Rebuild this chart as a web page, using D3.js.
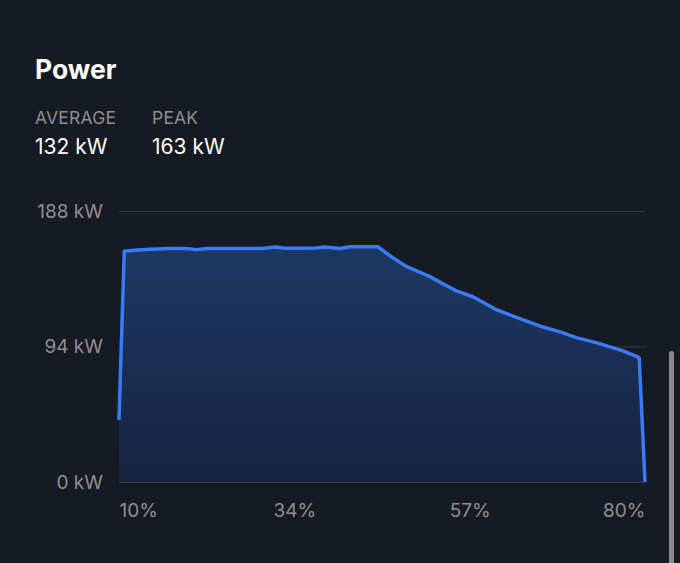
<!DOCTYPE html>
<html>
<head>
<meta charset="utf-8">
<script src="https://cdn.jsdelivr.net/npm/d3@7"></script>
<style>
  html, body { margin: 0; padding: 0; background: #161a22; }
  svg { display: block; font-family: Inter, "Noto Sans", sans-serif; }
</style>
</head>
<body>
<div id="viz-container"></div>
<script>
let vizWidth = 680;
let vizHeight = 563;

// share of charging session (0-100) and power in kW
let sessionPos = [0, 1, 3.4, 5.9, 9.7, 12.5, 14.8, 16.7, 23, 27.2, 29.7, 31.6, 34.4, 37.3, 39.2, 42, 43.9, 49.2,
                  51.5, 54.4, 59.1, 63.9, 67.3, 71.5, 75.3, 80.6, 84, 87.1, 90.9, 95.8, 98.5, 98.9, 100];
let powerKw = [43, 160, 161, 161.5, 162, 162, 161.2, 162, 162, 162, 163, 162.2, 162.2, 162.3, 163, 162, 163.2, 163.2,
               157, 150, 142.5, 133, 128.5, 120, 114.5, 107.5, 104, 100, 96.5, 91, 87, 86, 0];

let yTicks = [0, 94, 188];
let xTickPos = [0, 100 / 3, 200 / 3, 100];
let xTickLabels = ["10%", "34%", "57%", "80%"];

let stats = [
  { label: "AVERAGE", value: "132 kW" },
  { label: "PEAK", value: "163 kW" }
];

let data = sessionPos.map(function(p, i) { return { x: p, y: powerKw[i] }; });

let viz = d3.select("#viz-container")
  .append("svg")
    .attr("width", vizWidth)
    .attr("height", vizHeight)
    .style("background-color", "#161a22");

// header
viz.append("text")
  .attr("x", 35).attr("y", 79)
  .attr("fill", "#ffffff")
  .attr("font-size", 26.5)
  .attr("font-weight", 700)
  .text("Power");

let statGroups = viz.selectAll(".stat").data(stats).enter().append("g")
  .attr("class", "stat")
  .attr("transform", function(d, i) { return "translate(" + (35 + i * 117) + ",0)"; });

statGroups.append("text")
  .attr("y", 124)
  .attr("fill", "#8e8e93")
  .attr("font-size", 17.5)
  .attr("letter-spacing", 0.2)
  .text(function(d) { return d.label; });

statGroups.append("text")
  .attr("y", 153.5)
  .attr("fill", "#ffffff")
  .attr("font-size", 21)
  .text(function(d) { return d.value; });

// chart
let plotLeft = 119, plotRight = 645, plotTop = 211, plotBottom = 482;

let xScale = d3.scaleLinear().domain([0, 100]).range([plotLeft, plotRight]);
let yScale = d3.scaleLinear().domain([0, 188]).range([plotBottom, plotTop]);

let defs = viz.append("defs");
let grad = defs.append("linearGradient")
  .attr("id", "fillGrad")
  .attr("x1", 0).attr("y1", 0).attr("x2", 0).attr("y2", 1);
grad.append("stop").attr("offset", "0%").attr("stop-color", "#1d3865");
grad.append("stop").attr("offset", "100%").attr("stop-color", "#162440");

// grid lines
viz.append("g")
  .attr("transform", "translate(" + plotLeft + ",0)")
  .call(d3.axisRight(yScale).tickValues(yTicks).tickSize(plotRight - plotLeft).tickFormat(""))
  .call(function(g) {
    g.select(".domain").remove();
    g.selectAll(".tick line").attr("stroke", "#363a43").attr("stroke-width", 1);
  });

// area + line
let area = d3.area()
  .x(function(d) { return xScale(d.x); })
  .y0(yScale(0))
  .y1(function(d) { return yScale(d.y); });

let line = d3.line()
  .x(function(d) { return xScale(d.x); })
  .y(function(d) { return yScale(d.y); });

viz.append("path")
  .datum(data)
  .attr("d", area)
  .attr("fill", "url(#fillGrad)");

viz.append("path")
  .datum(data)
  .attr("d", line)
  .attr("fill", "none")
  .attr("stroke", "#3a7af2")
  .attr("stroke-width", 3.5)
  .attr("stroke-linejoin", "round");

// y labels
viz.append("g")
  .attr("transform", "translate(103,0)")
  .call(d3.axisLeft(yScale).tickValues(yTicks).tickSize(0).tickPadding(0)
    .tickFormat(function(d) { return d + " kW"; }))
  .call(function(g) {
    g.select(".domain").remove();
    g.selectAll(".tick text")
      .attr("fill", "#8e8e93")
      .attr("font-size", 19)
      .attr("font-family", "Inter, 'Noto Sans', sans-serif");
  });

// x labels
viz.append("g")
  .attr("transform", "translate(0,503)")
  .call(d3.axisBottom(xScale).tickValues(xTickPos).tickSize(0).tickPadding(0)
    .tickFormat(function(d, i) { return xTickLabels[i]; }))
  .call(function(g) {
    g.select(".domain").remove();
    g.selectAll(".tick text")
      .attr("fill", "#8e8e93")
      .attr("font-size", 19)
      .attr("font-family", "Inter, 'Noto Sans', sans-serif")
      .attr("text-anchor", function(d, i) {
        return i === 0 ? "start" : (i === xTickPos.length - 1 ? "end" : "middle");
      });
  });

// scroll indicator
viz.append("rect")
  .attr("x", 669).attr("y", 351)
  .attr("width", 5).attr("height", 230)
  .attr("rx", 2.5)
  .attr("fill", "#8a8a8e");
</script>
</body>
</html>
